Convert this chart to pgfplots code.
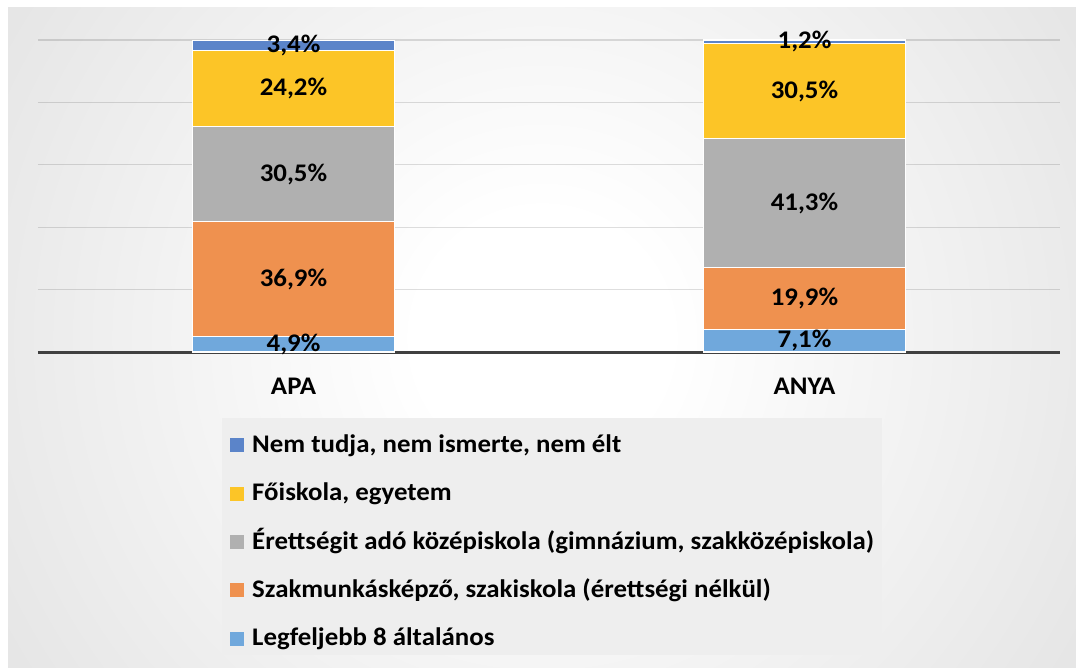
\documentclass[border=0pt]{standalone}
\usepackage{fontspec}
\setmainfont{Carlito}[FakeStretch=1.06]
\usepackage{pgfplots}
\pgfplotsset{compat=1.18}
\definecolor{cLow}{HTML}{70A8DC}
\definecolor{cOra}{HTML}{EF914F}
\definecolor{cGry}{HTML}{B0B0B0}
\definecolor{cYel}{HTML}{FCC527}
\definecolor{cTop}{HTML}{5B84C9}
\definecolor{cAxis}{HTML}{404040}
\definecolor{cLeg}{HTML}{EEEEEE}
\pgfdeclareradialshading{bgshade}{\pgfpointorigin}{color(0bp)=(white);color(5bp)=(white);color(50bp)=(gray!45)}
\newcommand{\lblfont}{\bfseries\fontsize{19}{22}\selectfont}
\begin{document}
\begin{tikzpicture}[x=1pt,y=1pt]
\fill[white] (0,0) rectangle (807,501);
\begin{scope}
\clip (6,0) rectangle (807,495);
\shade[shading=bgshade] (406.5-470,247.5-470) rectangle (406.5+470,247.5+470);
\end{scope}
\begin{axis}[
  at={(28.5pt,237pt)}, anchor=south west,
  scale only axis, width=766.5pt, height=234pt,
  xmin=-0.5, xmax=1.5, ymin=0, ymax=100,
  ybar stacked, bar width=0.396,
  axis line style={draw=none},
  xtick={0,1}, xticklabels={APA,ANYA}, major tick length=0pt,
  ytick={20,40,60,80,100}, yticklabels={},
  ymajorgrids, grid style={black, opacity=0.13, line width=1pt},
  xticklabel style={anchor=base, yshift=-32pt, font=\lblfont},
  clip=false,
  reverse legend,
  legend cell align=left,
  legend style={at={(0.180,-0.2115)}, anchor=north west, draw=none, fill=cLeg,
    inner xsep=6pt, inner ysep=4pt, row sep=12.3pt,
    font=\lblfont,
    nodes={inner sep=0pt, text height=21.5pt, text depth=2.5pt},
    /tikz/every odd column/.append style={column sep=6pt}},
  legend image code/.code={\fill[#1,draw=none] (0pt,-9.5pt) rectangle (10.5pt,1pt);},
  /pgf/number format/assume math mode=true,
  nodes near coords={\pgfmathprintnumber[fixed,fixed zerofill,precision=1,use comma,assume math mode=true]{\pgfplotspointmeta}\%},
  every node near coord/.append style={font=\lblfont, text=black, anchor=center},
]
\addplot[fill=cLow, draw=white, line width=0.8pt] coordinates {(0,4.9) (1,7.1)};
\addlegendentry{Legfeljebb 8 általános}
\addplot[fill=cOra, draw=white, line width=0.8pt] coordinates {(0,36.9) (1,19.9)};
\addlegendentry{Szakmunkásképző, szakiskola (érettségi nélkül)}
\addplot[fill=cGry, draw=white, line width=0.8pt] coordinates {(0,30.5) (1,41.3)};
\addlegendentry{Érettségit adó középiskola (gimnázium, szakközépiskola)}
\addplot[fill=cYel, draw=white, line width=0.8pt] coordinates {(0,24.2) (1,30.5)};
\addlegendentry{Főiskola, egyetem}
\addplot[fill=cTop, draw=white, line width=0.8pt] coordinates {(0,3.4) (1,1.2)};
\addlegendentry{Nem tudja, nem ismerte, nem élt}
\draw[cAxis, line width=2.25pt] (axis cs:-0.5,0) -- (axis cs:1.5,0);
\end{axis}
\end{tikzpicture}
\end{document}
